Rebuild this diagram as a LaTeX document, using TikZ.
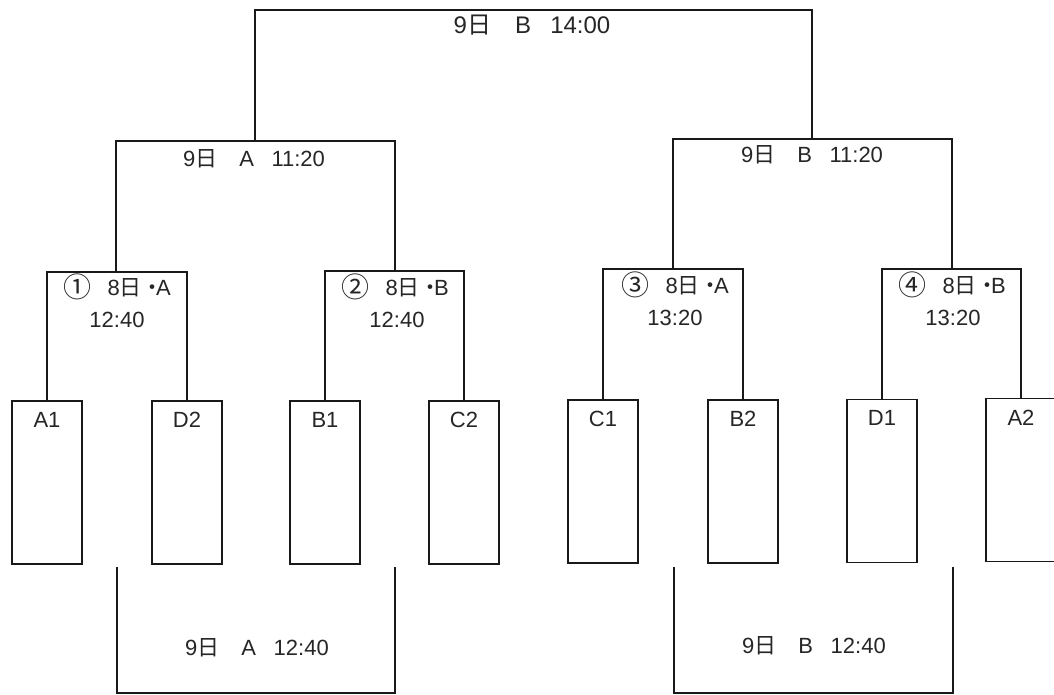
\documentclass[tikz,border=0pt]{standalone}
\usepackage{fontspec}
\setmainfont{Liberation Sans}
\newfontfamily\cjk{Noto Sans CJK JP}
\newcommand\nichi{{\cjk 日}}
\newcommand\ndot{{\cjk ・}\hspace{-0.35em}}
\newcommand\cnum[1]{\raisebox{-0.12em}{\cjk\fontsize{28}{30}\selectfont #1}\hspace{0.75em}}
\newcommand\gapA{\hspace{1.0em}}
\newcommand\gapB{\hspace{0.8em}}
\begin{document}
\begin{tikzpicture}[x=1pt,y=-1pt,
  ln/.style={line width=1.5pt, black!90},
  teambox/.style={draw=black!90, line width=1.8pt, minimum width=70pt, minimum height=163pt, inner sep=0pt},
  lbl/.style={font=\fontsize{22}{26}\selectfont, inner sep=0pt, anchor=base, text=black!85},
  tname/.style={lbl, anchor=north, yshift=-12pt}]
\clip (0,0) rectangle (1054,695);
\fill[white] (0,0) rectangle (1054,695);

% team boxes
\node[teambox, label={[tname]north:A1}] (a1) at (47,482.5) {};
\node[teambox, label={[tname]north:D2}] (d2) at (187,482.5) {};
\node[teambox, label={[tname]north:B1}] (b1) at (325,482.5) {};
\node[teambox, label={[tname]north:C2}] (c2) at (464,482.5) {};
\node[teambox, label={[tname]north:C1}] (c1) at (603,481.5) {};
\node[teambox, label={[tname]north:B2}] (b2) at (743,481.5) {};
\node[teambox, label={[tname]north:D1}] (d1) at (882,481) {};
\node[teambox, label={[tname]north:A2}] (a2) at (1021,480) {};

% bracket junctions
\coordinate (m1) at (116,272);
\coordinate (m2) at (395,271);
\coordinate (m3) at (673,269);
\coordinate (m4) at (952,269);
\coordinate (r1) at (255,141);
\coordinate (r2) at (812,139);
\coordinate (f)  at (532,10);

% first round
\draw[ln] (a1.north) |- (m1) -| (d2.north);
\draw[ln] (b1.north) |- (m2) -| (c2.north);
\draw[ln] (c1.north) |- (m3) -| (b2.north);
\draw[ln] (d1.north) |- (m4) -| (a2.north);
% semifinals
\draw[ln] (m1) |- (r1) -| (m2);
\draw[ln] (m3) |- (r2) -| (m4);
% final
\draw[ln] (r1) |- (f) -| (r2);

% bottom brackets
\coordinate (bl1) at (117,567);
\coordinate (bl2) at (395,567);
\coordinate (bl)  at (256,693);
\coordinate (br1) at (674,567);
\coordinate (br2) at (953,567);
\coordinate (br)  at (813,693);
\draw[ln] (bl1) |- (bl) -| (bl2);
\draw[ln] (br1) |- (br) -| (br2);

% labels
\node[lbl, font=\fontsize{24}{28}\selectfont] (tf) at (532,34) {9\nichi\gapA B\gapB 14:00};
\node[lbl] (tr1) at (254,167) {9\nichi\gapA A\gapB 11:20};
\node[lbl] (tr2) at (812,163) {9\nichi\gapA B\gapB 11:20};

\node[lbl] (tm1a) at (117,295) {\cnum{①}8\nichi\ndot A};
\node[lbl] (tm1b) at (117,327) {12:40};
\node[lbl] (tm2a) at (395,295) {\cnum{②}8\nichi\ndot B};
\node[lbl] (tm2b) at (397,327) {12:40};
\node[lbl] (tm3a) at (675,293) {\cnum{③}8\nichi\ndot A};
\node[lbl] (tm3b) at (675,325) {13:20};
\node[lbl] (tm4a) at (952,293) {\cnum{④}8\nichi\ndot B};
\node[lbl] (tm4b) at (953,325) {13:20};

\node[lbl] (tbl) at (257,655) {9\nichi\gapA A\gapB 12:40};
\node[lbl] (tbr) at (814,653) {9\nichi\gapA B\gapB 12:40};
\end{tikzpicture}
\end{document}
